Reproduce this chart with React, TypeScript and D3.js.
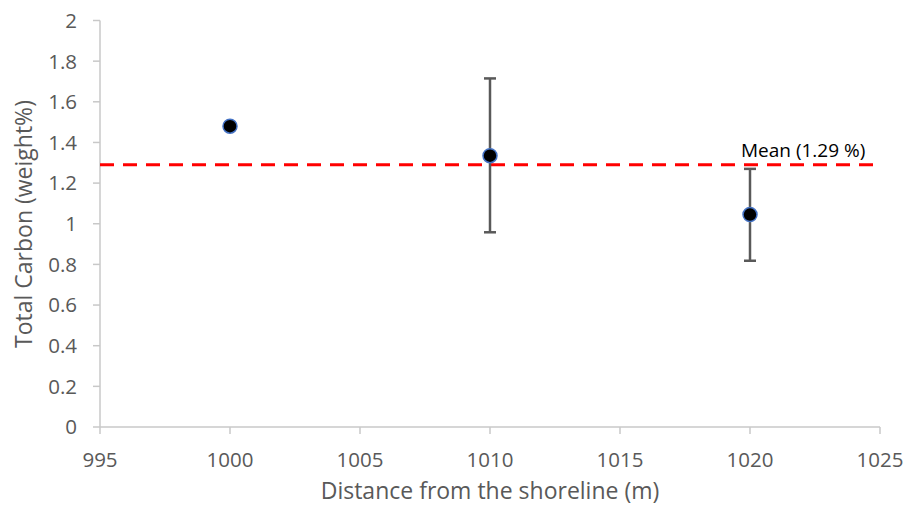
import React from "react";
import * as d3 from "d3";

const distances = [1000, 1010, 1020];
const carbon = [1.48, 1.335, 1.045];
const errUpper = [null, 1.715, 1.27];
const errLower = [null, 0.958, 0.818];
const meanValue = 1.29;
const meanLabel = "Mean (1.29 %)";
const xTicks = [995, 1000, 1005, 1010, 1015, 1020, 1025];
const yTicks = [0, 0.2, 0.4, 0.6, 0.8, 1, 1.2, 1.4, 1.6, 1.8, 2];
const xTitle = "Distance from the shoreline (m)";
const yTitle = "Total Carbon (weight%)";

const W = 904;
const H = 508;
const FONT = "'Open Sans', 'DejaVu Sans', sans-serif";

export default function App() {
  const x = d3.scaleLinear().domain([995, 1025]).range([100, 880]);
  const y = d3.scaleLinear().domain([0, 2]).range([427, 20.5]);
  const axisColor = "#c8c8c8";
  const textColor = "#595959";

  return (
    <svg width={W} height={H} style={{ position: "absolute", left: 0, top: 0, background: "#fff" }}>
      {/* axes */}
      <line x1={x(995)} x2={x(1025)} y1={y(0)} y2={y(0)} stroke={axisColor} strokeWidth={1.5} />
      <line x1={x(995)} x2={x(995)} y1={y(0)} y2={y(2)} stroke={axisColor} strokeWidth={1.5} />
      {yTicks.map((t) => (
        <g key={"y" + t}>
          <line x1={x(995) - 7} x2={x(995)} y1={y(t)} y2={y(t)} stroke={axisColor} strokeWidth={1.5} />
          <text x={77} y={y(t)} dy="0.36em" textAnchor="end" fontFamily={FONT} fontSize={20.5} fill={textColor}>
            {d3.format("~g")(t)}
          </text>
        </g>
      ))}
      {xTicks.map((t) => (
        <g key={"x" + t}>
          <line x1={x(t)} x2={x(t)} y1={y(0)} y2={y(0) + 7} stroke={axisColor} strokeWidth={1.5} />
          <text x={x(t)} y={467} textAnchor="middle" fontFamily={FONT} fontSize={20.5} fill={textColor}>
            {t}
          </text>
        </g>
      ))}
      {/* axis titles */}
      <text x={490} y={499} textAnchor="middle" fontFamily={FONT} fontSize={23} fill={textColor}>
        {xTitle}
      </text>
      <text
        transform={`translate(32, 224) rotate(-90)`}
        textAnchor="middle"
        fontFamily={FONT}
        fontSize={23}
        fill={textColor}
      >
        {yTitle}
      </text>
      {/* mean line */}
      <line
        x1={x(995)}
        x2={x(1025)}
        y1={y(meanValue)}
        y2={y(meanValue)}
        stroke="#ff0000"
        strokeWidth={3}
        strokeDasharray="14 9"
      />
      <text x={741} y={157} fontFamily={FONT} fontSize={19} fill="#000">
        {meanLabel}
      </text>
      {/* error bars */}
      {distances.map((d, i) =>
        errUpper[i] != null ? (
          <g key={"e" + d} stroke="#595959" strokeWidth={2.5}>
            <line x1={x(d)} x2={x(d)} y1={y(errUpper[i] as number)} y2={y(errLower[i] as number)} />
            <line x1={x(d) - 6} x2={x(d) + 6} y1={y(errUpper[i] as number)} y2={y(errUpper[i] as number)} />
            <line x1={x(d) - 6} x2={x(d) + 6} y1={y(errLower[i] as number)} y2={y(errLower[i] as number)} />
          </g>
        ) : null
      )}
      {/* points */}
      {distances.map((d, i) => (
        <circle key={"p" + d} cx={x(d)} cy={y(carbon[i])} r={7} fill="#000" stroke="#4472c4" strokeWidth={1.5} />
      ))}
    </svg>
  );
}
